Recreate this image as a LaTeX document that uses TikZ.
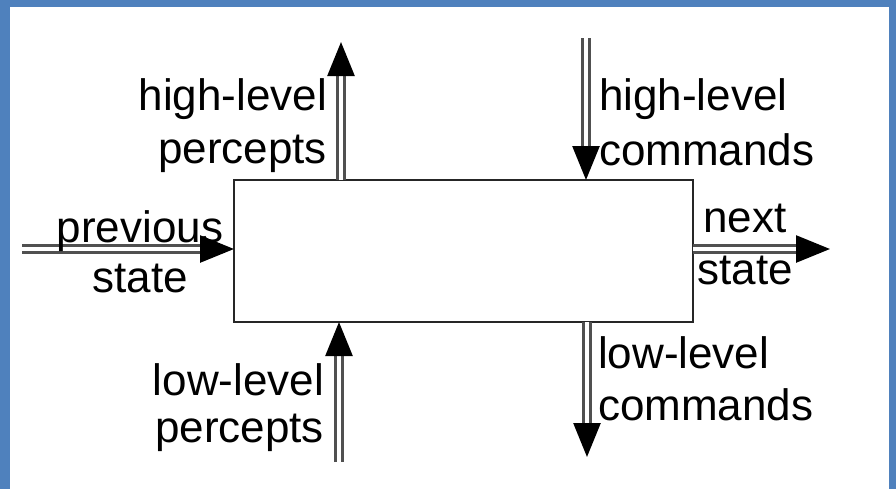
\documentclass[tikz,border=0pt]{standalone}
\usepackage{fontspec}
\setmainfont{Liberation Sans}
\usetikzlibrary{arrows.meta}
\definecolor{frameblue}{RGB}{79,129,189}
\definecolor{dblgray}{RGB}{80,80,80}
\begin{document}
\begin{tikzpicture}[x=0.5pt,y=-0.5pt,
  lbl/.style={inner sep=0pt, outer sep=0pt},
  dbl/.style={draw=dblgray, line width=1.3pt, double=white, double distance=2pt,
    -{Triangle[length=17pt,width=13.5pt,fill=black,color=black]}},
  mainbox/.style={draw=black!85, line width=1pt, fill=white, inner sep=0pt,
    minimum width=229.5pt, minimum height=71pt}]
  % background and frame
  \fill[frameblue] (0,0) rectangle (896,489);
  \fill[white] (10,7) rectangle (889,489);
  \useasboundingbox (0,0) rectangle (896,489);
  % box
  \node[mainbox] (box) at (463.5,251) {};
  % coordinates
  \coordinate (prevstart) at (22,249);
  \coordinate (previn) at (234,249);
  \coordinate (nextout) at (693,249);
  \coordinate (nextend) at (830,249);
  \coordinate (hlpout) at (341,180);
  \coordinate (hlpend) at (341,42);
  \coordinate (hlcstart) at (586,38);
  \coordinate (hlcin) at (586,180);
  \coordinate (llcout) at (587,322);
  \coordinate (llcend) at (587,457);
  \coordinate (llpstart) at (339,462);
  \coordinate (llpin) at (339,322);
  % arrows
  \draw[dbl] (prevstart) -- (previn);
  \draw[dbl] (nextout) -- (nextend);
  \draw[dbl] (hlpout) -- (hlpend);
  \draw[dbl] (hlcstart) -- (hlcin);
  \draw[dbl] (llcout) -- (llcend);
  \draw[dbl] (llpstart) -- (llpin);
  % labels (anchor = baseline of last line)
  \node[lbl, anchor=base east, align=right, font=\fontsize{22}{26.5}\selectfont] (hlp) at (327,163) {high-level\\percepts};
  \node[lbl, anchor=base west, align=left, font=\fontsize{22}{27.5}\selectfont] (hlc) at (599,165) {high-level\\commands};
  \node[lbl, anchor=base, align=center, font=\fontsize{22}{25}\selectfont] (prev) at (140,292) {previous\\state};
  \node[lbl, anchor=base, align=center, font=\fontsize{22}{26}\selectfont] (next) at (745,284) {next\\state};
  \node[lbl, anchor=base east, align=right, font=\fontsize{22}{23.5}\selectfont] (llp) at (324,442) {low-level\\percepts};
  \node[lbl, anchor=base west, align=left, font=\fontsize{22}{26}\selectfont] (llc) at (598,420) {low-level\\commands};
\end{tikzpicture}
\end{document}
